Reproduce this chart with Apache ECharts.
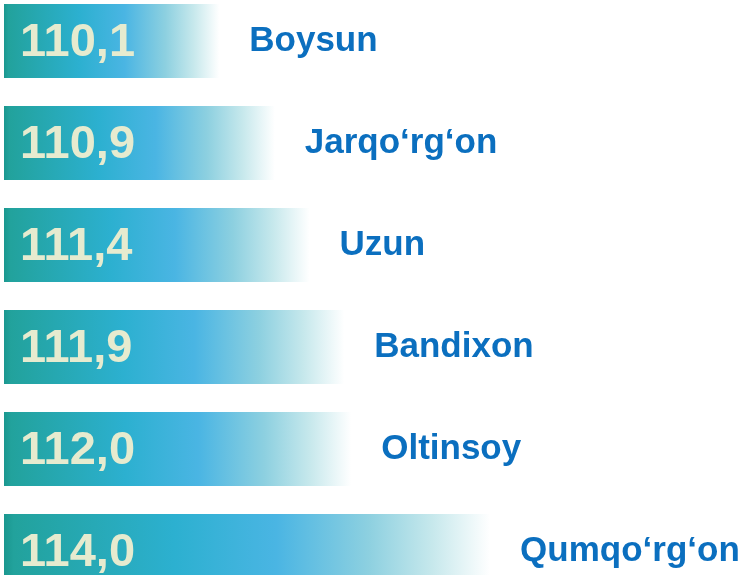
<!DOCTYPE html>
<html>
<head>
<meta charset="utf-8">
<script src="https://cdn.jsdelivr.net/npm/echarts@6/dist/echarts.min.js"></script>
<style>
  html, body { margin: 0; padding: 0; background: #fff; overflow: hidden; }
  #main { width: 747px; height: 620px; margin-top: -10px; }
</style>
</head>
<body>
<div id="main"></div>
<script>
// tumanlar va qiymatlar
var districts = ['Boysun', 'Jarqo‘rg‘on', 'Uzun', 'Bandixon', 'Oltinsoy', 'Qumqo‘rg‘on'];
var values = [110.1, 110.9, 111.4, 111.9, 112.0, 114.0];

var myChart = echarts.init(document.getElementById('main'));

var barColor = new echarts.graphic.LinearGradient(0, 0, 1, 0, [
    {offset: 0, color: '#1a978f'},
    {offset: 0.02, color: '#22a29c'},
    {offset: 0.35, color: '#2cb0d0'},
    {offset: 0.56, color: '#4ab5e3'},
    {offset: 0.75, color: '#8dd0e0'},
    {offset: 0.88, color: '#c6e8ec'},
    {offset: 1, color: '#ffffff'}
]);

var option = {
    animation: false,
    grid: {
        left: 4,
        right: 0,
        top: 0,
        height: 612
    },
    xAxis: {
        type: 'value',
        min: 107,
        max: 117.7,
        show: false
    },
    yAxis: {
        type: 'category',
        inverse: true,
        data: districts,
        show: false
    },
    series: [
        {
            type: 'bar',
            data: values,
            barWidth: 74,
            itemStyle: {
                color: barColor
            },
            label: {
                show: true,
                position: 'insideLeft',
                distance: 16,
                offset: [0, 2],
                color: '#e6ebcf',
                fontFamily: 'Liberation Sans, Arial, sans-serif',
                fontWeight: 'bold',
                fontSize: 47,
                formatter: function (p) {
                    return p.value.toFixed(1).replace('.', ',');
                }
            },
            z: 2
        },
        {
            type: 'bar',
            data: values,
            barWidth: 74,
            barGap: '-100%',
            itemStyle: {
                color: 'rgba(0,0,0,0)'
            },
            label: {
                show: true,
                position: 'right',
                distance: 30,
                color: '#0b6fbf',
                fontFamily: 'Liberation Sans, Arial, sans-serif',
                fontWeight: 'bold',
                fontSize: 35,
                formatter: '{b}'
            },
            z: 3
        }
    ]
};
myChart.setOption(option);
</script>
</body>
</html>
